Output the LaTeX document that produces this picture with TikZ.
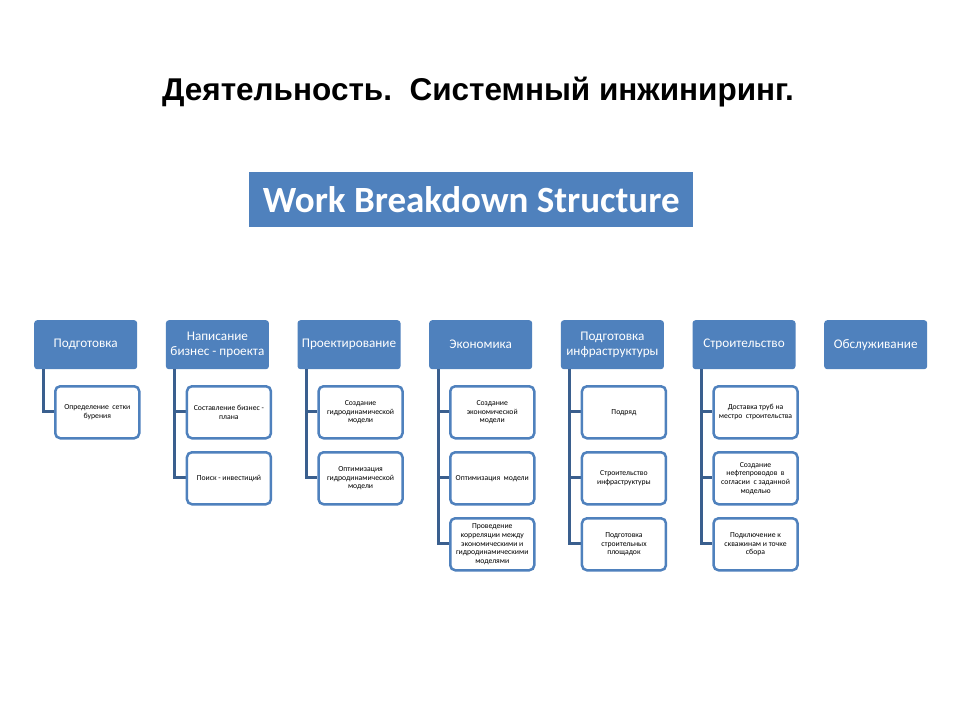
\documentclass[tikz,border=0pt]{standalone}
\usepackage{fontspec}
\setmainfont{Carlito}
\newfontfamily\titlefont{Liberation Sans}
\definecolor{wbsblue}{HTML}{4F81BD}
\definecolor{connblue}{HTML}{3A5F8E}
\begin{document}
\begin{tikzpicture}[x=1pt,y=-1pt,
  topbox/.style={draw=none,fill=wbsblue,rounded corners=3pt,minimum width=103pt,minimum height=49pt,
    anchor=north west,text=white,font=\fontsize{13.2}{14.5}\selectfont,align=center,inner sep=1pt},
  childbox/.style={draw=wbsblue,line width=2.5pt,fill=white,rounded corners=5pt,minimum width=84pt,minimum height=52pt,
    anchor=north west,text=black,font=\fontsize{7.7}{8.6}\selectfont,align=center,inner sep=1pt},
  conn/.style={draw=connblue,line width=3pt}]
\useasboundingbox (0,0) rectangle (960,720);
\fill[white] (0,0) rectangle (960,720);
\node[font=\titlefont\bfseries\fontsize{31.5}{33}\selectfont] (title) at (478,92) {Деятельность.\ \ Системный инжиниринг.};
\node[fill=wbsblue,minimum width=444pt,minimum height=55pt,anchor=north west,text=white,
  font=\bfseries\fontsize{37}{39}\selectfont] (wbs) at (249,172) {Work Breakdown Structure};
% top level
\node[topbox] (t1) at (34,320) {Подготовка};
\node[topbox] (t2) at (165.7,320) {Написание\\бизнес - проекта};
\node[topbox] (t3) at (297.3,320) {Проектирование};
\node[topbox] (t4) at (429,320) {Экономика};
\node[topbox] (t5) at (560.7,320) {Подготовка\\инфраструктуры};
\node[topbox] (t6) at (692.3,320) {Строительство};
\node[topbox] (t7) at (824,320) {Обслуживание};
% connectors
\draw[conn] ([xshift=9pt]t1.south west) |- (54,411);
\draw[conn] ([xshift=9pt]t2.south west) |- (185.7,477);
\draw[conn] ([xshift=9pt]t2.south west) |- (185.7,411);
\draw[conn] ([xshift=9pt]t3.south west) |- (317.3,477);
\draw[conn] ([xshift=9pt]t3.south west) |- (317.3,411);
\draw[conn] ([xshift=9pt]t4.south west) |- (449,543);
\draw[conn] ([xshift=9pt]t4.south west) |- (449,411);
\draw[conn] ([xshift=9pt]t4.south west) |- (449,477);
\draw[conn] ([xshift=9pt]t5.south west) |- (580.7,543);
\draw[conn] ([xshift=9pt]t5.south west) |- (580.7,411);
\draw[conn] ([xshift=9pt]t5.south west) |- (580.7,477);
\draw[conn] ([xshift=9pt]t6.south west) |- (712.3,543);
\draw[conn] ([xshift=9pt]t6.south west) |- (712.3,411);
\draw[conn] ([xshift=9pt]t6.south west) |- (712.3,477);
% children
\node[childbox] (c11) at (54,385) {Определение\ \ сетки\\бурения};
\node[childbox] (c21) at (185.7,385) {Составление бизнес -\\плана};
\node[childbox] (c22) at (185.7,451) {Поиск - инвестиций};
\node[childbox] (c31) at (317.3,385) {Создание\\гидродинамической\\модели};
\node[childbox] (c32) at (317.3,451) {Оптимизация\\гидродинамической\\модели};
\node[childbox] (c41) at (449,385) {Создание\\экономической\\модели};
\node[childbox] (c42) at (449,451) {Оптимизация\ \ модели};
\node[childbox] (c43) at (449,517) {Проведение\\корреляции между\\экономическими и\\гидродинамическими\\моделями};
\node[childbox] (c51) at (580.7,385) {Подряд};
\node[childbox] (c52) at (580.7,451) {Строительство\\инфраструктуры};
\node[childbox] (c53) at (580.7,517) {Подготовка\\строительных\\площадок};
\node[childbox] (c61) at (712.3,385) {Доставка труб на\\местро\ \ строительства};
\node[childbox] (c62) at (712.3,451) {Создание\\нефтепроводов\ \ в\\согласии\ \ с заданной\\моделью};
\node[childbox] (c63) at (712.3,517) {Подключение к\\скважинам и точке\\сбора};
\end{tikzpicture}
\end{document}
